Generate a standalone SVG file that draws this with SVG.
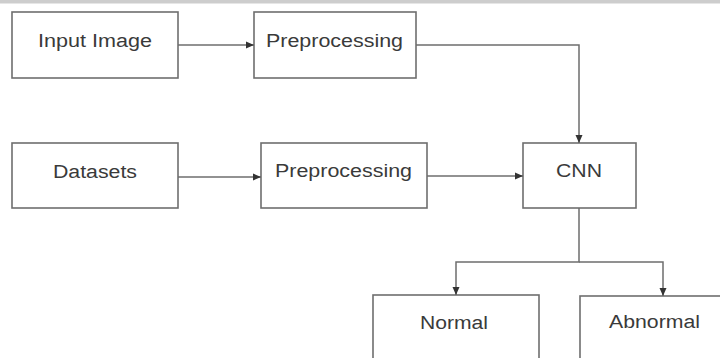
<svg xmlns="http://www.w3.org/2000/svg" width="720" height="358" viewBox="0 0 720 358">
<style>
.box{fill:#fff;stroke:#6e6e6e;stroke-width:1.6}
.lbl{font-family:"Liberation Sans",Arial,sans-serif;font-size:18px;fill:#3a3a3a;text-anchor:middle}
.con{fill:none;stroke:#6e6e6e;stroke-width:1.5}
</style>
<defs>
<marker id="ah" markerUnits="userSpaceOnUse" markerWidth="9" markerHeight="8" refX="8" refY="4" orient="auto">
<path d="M0,0.5 L8,4 L0,7.5 Z" fill="#333"/>
</marker>
</defs>
<rect x="0" y="0" width="720" height="720" fill="#fff"/>
<rect x="0" y="0" width="720" height="3.5" fill="#cdcdcd"/>
<g id="input-image"><rect class="box" x="12" y="12" width="166" height="66"/><text class="lbl" x="95" y="47" textLength="114" lengthAdjust="spacingAndGlyphs">Input Image</text></g>
<g id="preprocessing-1"><rect class="box" x="254" y="12" width="162" height="66"/><text class="lbl" x="334.5" y="47" textLength="137" lengthAdjust="spacingAndGlyphs">Preprocessing</text></g>
<g id="datasets"><rect class="box" x="12" y="143" width="166" height="65"/><text class="lbl" x="95" y="178" textLength="84" lengthAdjust="spacingAndGlyphs">Datasets</text></g>
<g id="preprocessing-2"><rect class="box" x="261" y="143" width="166" height="65"/><text class="lbl" x="343.5" y="177" textLength="137" lengthAdjust="spacingAndGlyphs">Preprocessing</text></g>
<g id="cnn"><rect class="box" x="523" y="143" width="113" height="65"/><text class="lbl" x="579" y="177" textLength="46" lengthAdjust="spacingAndGlyphs">CNN</text></g>
<g id="normal"><rect class="box" x="373" y="295" width="166" height="80"/><text class="lbl" x="454" y="329" textLength="68" lengthAdjust="spacingAndGlyphs">Normal</text></g>
<g id="abnormal"><rect class="box" x="580" y="296" width="160" height="80"/><text class="lbl" x="654.5" y="328" textLength="91" lengthAdjust="spacingAndGlyphs">Abnormal</text></g>
<g id="connectors">
<path class="con" d="M178,45 H254" marker-end="url(#ah)"/>
<path class="con" d="M416,45 H579 V143" marker-end="url(#ah)"/>
<path class="con" d="M178,177 H261" marker-end="url(#ah)"/>
<path class="con" d="M427,176 H523" marker-end="url(#ah)"/>
<path class="con" d="M579,208 V262 H456 V295" marker-end="url(#ah)"/>
<path class="con" d="M579,262 H663 V296" marker-end="url(#ah)"/>
</g>
</svg>
